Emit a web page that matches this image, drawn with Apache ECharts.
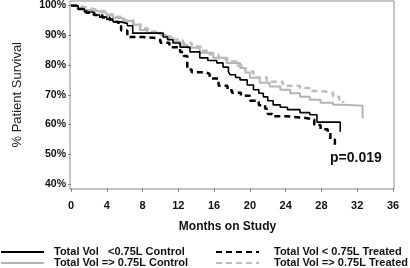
<!DOCTYPE html>
<html>
<head>
<meta charset="utf-8">
<script src="https://cdn.jsdelivr.net/npm/echarts@6/dist/echarts.min.js"></script>
<style>
  html, body { margin: 0; padding: 0; background: #fff; }
  #chart { width: 410px; height: 268px; }
</style>
</head>
<body>
<div id="chart"></div>
<script>
// months on study / % survival
var xTicks = [0, 4, 8, 12, 16, 20, 24, 28, 32, 36];
var yTicks = [40, 50, 60, 70, 80, 90, 100];

var ctrlLowMonths = [0, 0.8, 1.5, 2.5, 3.2, 4.0, 4.7, 5.5, 6.3, 6.9, 10.3, 10.8, 11.4, 12.2, 13.3, 14.4, 15.3, 16.3, 17.0, 17.6, 17.8, 18.4, 18.9, 19.7, 20.4, 21.0, 21.5, 22.0, 22.6, 23.4, 24.2, 25.6, 26.7, 27.5, 30.1];
var ctrlLowSurv   = [100, 98.8, 97.8, 96.8, 96.1, 95.3, 94.5, 94.0, 93.2, 90.7, 89.4, 88.5, 87.4, 86.0, 84.4, 82.4, 81.5, 80.7, 79.3, 77.7, 76.7, 75.8, 75.0, 73.3, 71.7, 70.5, 69.3, 68.0, 66.6, 65.8, 65.0, 64.0, 63.3, 60.8, 57.6];

var trtLowMonths = [0, 0.8, 1.7, 2.6, 3.5, 4.3, 5.0, 5.3, 5.6, 6.3, 8.0, 9.6, 10.0, 11.0, 12.2, 12.6, 13.0, 13.5, 15.0, 15.5, 16.5, 17.5, 18.0, 19.0, 20.0, 21.0, 21.7, 22.0, 22.5, 24.0, 26.0, 27.2, 27.9, 28.7, 29.0, 29.5];
var trtLowSurv   = [100, 98.8, 97.6, 96.8, 96.0, 95.3, 94.5, 93.0, 91.6, 89.4, 89.0, 88.4, 87.5, 86.0, 84.4, 83.0, 78.5, 77.6, 77.0, 75.5, 73.0, 71.5, 70.7, 69.7, 68.0, 66.5, 65.3, 63.5, 62.8, 62.3, 61.7, 59.8, 58.4, 57.3, 55.0, 52.5];

var ctrlHighMonths = [0, 0.7, 1.5, 2.3, 3.2, 4.0, 4.7, 5.8, 6.9, 7.7, 8.5, 10.0, 10.7, 11.4, 12.2, 13.0, 14.4, 15.9, 17.4, 18.9, 19.5, 20.0, 21.1, 22.2, 23.4, 24.5, 25.6, 26.7, 27.9, 29.3, 30.5, 32.6];
var ctrlHighSurv   = [100, 99.2, 98.5, 98.0, 97.5, 96.6, 95.8, 94.8, 93.5, 91.8, 90.8, 90.1, 89.0, 87.8, 86.8, 85.8, 84.1, 82.4, 80.7, 79.0, 77.5, 75.7, 74.0, 72.8, 71.7, 70.5, 69.3, 68.3, 67.3, 66.6, 66.3, 62.0];

var trtHighMonths = [0, 0.8, 1.6, 2.5, 3.3, 4.2, 5.0, 6.0, 7.0, 7.8, 8.6, 9.5, 10.5, 11.5, 12.5, 13.5, 14.5, 15.5, 16.5, 17.5, 18.5, 19.5, 20.4, 21.9, 23.7, 25.6, 26.8, 27.9, 29.3, 30.0, 30.4];
var trtHighSurv   = [100, 99.4, 98.8, 98.3, 97.8, 97.0, 96.2, 95.0, 93.6, 92.3, 91.3, 90.5, 89.6, 88.6, 87.4, 86.2, 84.8, 83.5, 82.2, 81.2, 79.8, 77.8, 75.8, 74.4, 73.0, 72.3, 71.3, 70.7, 69.3, 68.3, 67.3];

var names = [
  "Total Vol   <0.75L Control",
  "Total Vol => 0.75L Control",
  "Total Vol < 0.75L Treated",
  "Total Vol => 0.75L Treated"
];
var pValue = "p=0.019";

function pairs(xs, ys) {
  return xs.map(function (x, i) { return [x, ys[i]]; });
}

var font = "Liberation Sans, Arial, sans-serif";

var legendBase = {
  top: 246.5,
  height: 40,
  padding: 0,
  orient: "vertical",
  itemGap: 0,
  itemWidth: 43,
  itemHeight: 11,
  itemStyle: { opacity: 0 }
};

var myChart = echarts.init(document.getElementById("chart"), null, { renderer: "canvas" });

myChart.setOption({
  animation: false,
  textStyle: { fontFamily: font },
  grid: [
    { left: 71, right: 17, top: 5.5, bottom: 84 },
    // frame box
    { show: true, left: 70, right: 16, top: 1, bottom: 79, borderColor: "#8a8a8a", borderWidth: 1, backgroundColor: "transparent" }
  ],
  xAxis: [
    {
      type: "value",
      gridIndex: 0,
      min: 0,
      max: 36,
      interval: 4,
      offset: 4,
      axisLine: { show: false },
      axisTick: { show: true, inside: false, length: 4, lineStyle: { color: "#8a8a8a" } },
      splitLine: { show: false },
      axisLabel: { margin: 12, color: "#111", fontSize: 11, fontWeight: "bold", fontFamily: font },
      name: "Months on Study",
      nameLocation: "middle",
      nameGap: 33,
      nameTextStyle: { color: "#111", fontSize: 12, fontWeight: "bold", fontFamily: font, padding: [0, 9, 0, 0] }
    },
    { type: "value", gridIndex: 1, show: false, min: 0, max: 1 }
  ],
  yAxis: [
    {
      type: "value",
      gridIndex: 0,
      min: 40,
      max: 100,
      interval: 10,
      axisLine: { show: false },
      axisTick: { show: true, inside: false, length: 3, lineStyle: { color: "#8a8a8a" } },
      splitLine: { show: false },
      axisLabel: {
        margin: 5,
        color: "#111",
        fontSize: 10.5,
        fontWeight: "bold",
        fontFamily: font,
        formatter: function (v) { return v + "%"; }
      },
      name: "% Patient Survival",
      nameLocation: "middle",
      nameGap: 47,
      nameRotate: 90,
      nameTextStyle: { color: "#222", fontSize: 13, fontFamily: font }
    },
    { type: "value", gridIndex: 1, show: false, min: 0, max: 1 }
  ],
  legend: [
    Object.assign({}, legendBase, {
      left: 0,
      data: [names[0], names[1]],
      textStyle: { color: "#111", fontSize: 11, fontWeight: "bold", fontFamily: font, padding: [0, 0, 0, 5], lineHeight: 11 }
    }),
    Object.assign({}, legendBase, {
      left: 215,
      data: [names[2], names[3]],
      textStyle: { color: "#111", fontSize: 11, fontWeight: "bold", fontFamily: font, padding: [0, 0, 0, 10], lineHeight: 11 }
    })
  ],
  graphic: [
    {
      type: "text",
      left: 330,
      top: 151,
      style: { text: pValue, fill: "#111", font: "bold 14px " + font }
    }
  ],
  series: [
    {
      name: names[1],
      type: "line",
      step: "end",
      symbol: "none",
      data: pairs(ctrlHighMonths, ctrlHighSurv),
      lineStyle: { color: "#b4b4b4", width: 2 },
      itemStyle: { color: "#b4b4b4" }
    },
    {
      name: names[3],
      type: "line",
      step: "end",
      symbol: "none",
      data: pairs(trtHighMonths, trtHighSurv),
      lineStyle: { color: "#bdbdbd", width: 2.5, type: [6, 4] },
      itemStyle: { color: "#bdbdbd" }
    },
    {
      name: names[0],
      type: "line",
      step: "end",
      symbol: "none",
      data: pairs(ctrlLowMonths, ctrlLowSurv),
      lineStyle: { color: "#000", width: 1.6 },
      itemStyle: { color: "#000" }
    },
    {
      name: names[2],
      type: "line",
      step: "end",
      symbol: "none",
      data: pairs(trtLowMonths, trtLowSurv),
      lineStyle: { color: "#000", width: 2.5, type: [6, 4] },
      itemStyle: { color: "#000" }
    }
  ]
});
</script>
</body>
</html>
